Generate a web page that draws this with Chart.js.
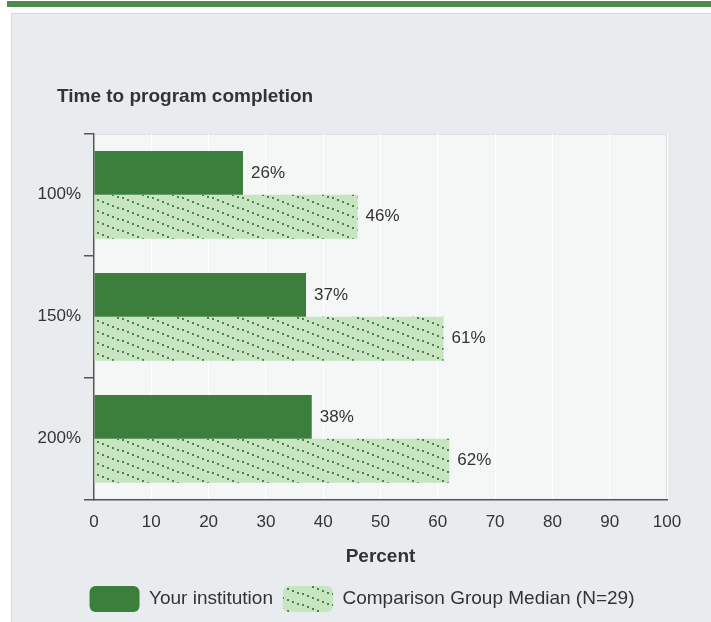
<!DOCTYPE html>
<html>
<head>
<meta charset="utf-8">
<script src="https://cdn.jsdelivr.net/npm/chart.js@4.4.0/dist/chart.umd.min.js"></script>
<style>
  body { margin: 0; background: #fff; }
  #topbar { position: absolute; left: 7px; top: 1px; width: 704px; height: 6px; background: #4e8a4e; }
  #panel {
    position: absolute; left: 11px; top: 13px; width: 700px; height: 609px;
    background: #e9ecee; border-top: 1px solid #d2d4d5; border-left: 1px solid #dadcdd;
    box-sizing: border-box;
  }
  #wrap { position: absolute; left: 0; top: 0; width: 699px; height: 608px; }
</style>
</head>
<body>
<div id="topbar"></div>
<div id="panel">
  <div id="wrap"><canvas id="chart"></canvas></div>
</div>
<script>
const categories = ["100%", "150%", "200%"];
const institutionValues = [26, 37, 38];
const medianValues = [46, 61, 62];
const seriesNames = ["Your institution", "Comparison Group Median (N=29)"];

const FONT = '"Liberation Sans", Arial, sans-serif';
const TEXT = "#333333";

// dotted diagonal hatch for the comparison bars
const makeHatch = () => {
  const c = document.createElement("canvas");
  c.width = 30;
  c.height = 11;
  const g = c.getContext("2d");
  g.fillStyle = "#c6e5c0";
  g.fillRect(0, 0, 30, 11);
  g.fillStyle = "#4a844a";
  for (let i = 0; i < 6; i++) {
    g.fillRect(i * 5, Math.round(i * 11 / 6), 2, 2);
  }
  return g.createPattern(c, "repeat");
};

// plot area background + frame
const plotBg = {
  id: "plotBg",
  beforeDraw(chart) {
    const { ctx, chartArea: a } = chart;
    ctx.save();
    ctx.fillStyle = "#f5f6f6";
    ctx.fillRect(a.left, a.top, a.right - a.left, a.bottom - a.top);
    ctx.strokeStyle = "#d9dbdc";
    ctx.lineWidth = 1;
    ctx.strokeRect(a.left + 0.5, a.top + 0.5, a.right - a.left - 1, a.bottom - a.top - 1);
    ctx.restore();
  },
};

// the y axis is kept narrow so the title lines up; let its labels spill left
const widenYLabels = {
  id: "widenYLabels",
  afterLayout(chart) {
    chart.scales.y.left = 0;
  },
};

// value labels at the end of each bar
const barLabels = {
  id: "barLabels",
  afterDatasetsDraw(chart) {
    const { ctx } = chart;
    ctx.save();
    ctx.font = "17px " + FONT;
    ctx.fillStyle = TEXT;
    ctx.textBaseline = "middle";
    chart.data.datasets.forEach((ds, i) => {
      chart.getDatasetMeta(i).data.forEach((bar, j) => {
        ctx.fillText(ds.data[j] + "%", bar.x + 8, bar.y);
      });
    });
    ctx.restore();
  },
};

new Chart(document.getElementById("chart"), {
  type: "bar",
  data: {
    labels: categories,
    datasets: [
      {
        label: seriesNames[0],
        data: institutionValues,
        backgroundColor: "#3c7f3c",
        borderWidth: 0,
        categoryPercentage: 0.72,
        barPercentage: 1.0,
      },
      {
        label: seriesNames[1],
        data: medianValues,
        backgroundColor: makeHatch(),
        borderWidth: 0,
        categoryPercentage: 0.72,
        barPercentage: 1.0,
      },
    ],
  },
  options: {
    indexAxis: "y",
    responsive: true,
    maintainAspectRatio: false,
    animation: false,
    layout: { padding: { left: 45, right: 44, top: 60, bottom: 0 } },
    scales: {
      x: {
        min: 0,
        max: 100,
        ticks: { stepSize: 10, color: TEXT, font: { family: FONT, size: 17 }, padding: 12 },
        grid: { color: "#ffffff", lineWidth: 1, drawTicks: false },
        border: { color: "#555555", width: 1.5 },
        title: {
          display: true,
          text: "Percent",
          color: TEXT,
          font: { family: FONT, size: 19, weight: "bold" },
          padding: { top: 1, bottom: 8 },
        },
      },
      y: {
        ticks: { color: TEXT, font: { family: FONT, size: 17 }, padding: 3 },
        grid: { drawOnChartArea: false, drawTicks: true, tickLength: 10, color: "#555555", lineWidth: 1.5 },
        border: { color: "#555555", width: 1.5 },
        afterFit(scale) {
          scale.width = 37;
        },
      },
    },
    plugins: {
      title: {
        display: true,
        text: "Time to program completion",
        align: "start",
        color: TEXT,
        font: { family: FONT, size: 19, weight: "bold" },
        padding: { top: 11, bottom: 26 },
      },
      legend: {
        position: "bottom",
        labels: {
          color: TEXT,
          font: { family: FONT, size: 19 },
          boxWidth: 50,
          boxHeight: 26,
          useBorderRadius: true,
          borderRadius: 6,
          padding: 10,
        },
      },
      tooltip: { enabled: false },
    },
  },
  plugins: [plotBg, widenYLabels, barLabels],
});
</script>
</body>
</html>
